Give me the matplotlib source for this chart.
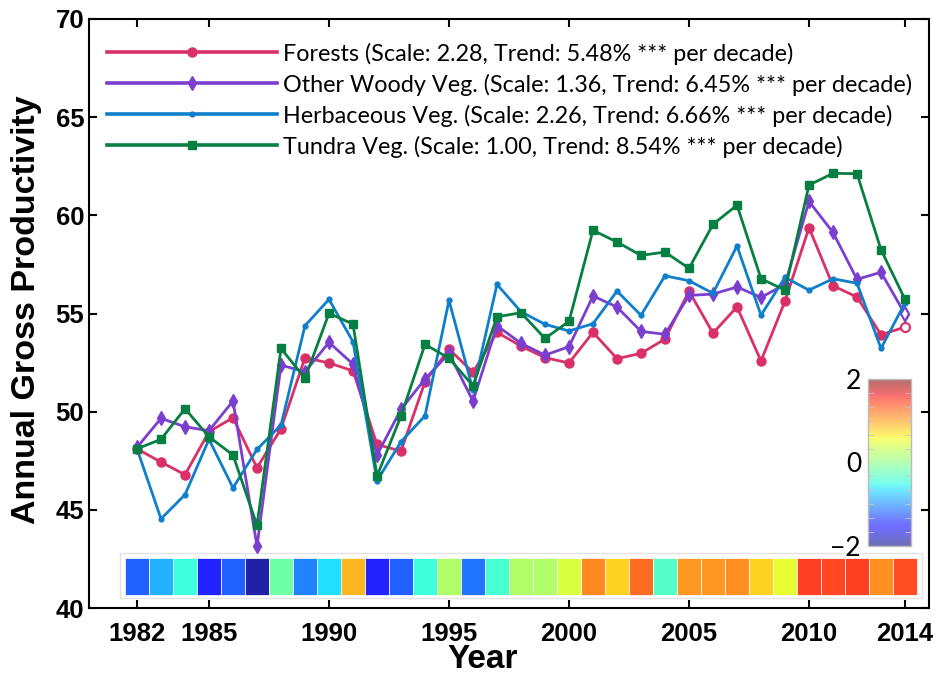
import numpy as np
import matplotlib
matplotlib.use('Agg')
import matplotlib.pyplot as plt
from matplotlib.colors import Normalize
import matplotlib.cm as cm

years = np.arange(1982, 2015)

forests = [48.11, 47.43, 46.79, 48.98, 49.69, 47.14, 49.13, 52.75, 52.48, 52.08,
           48.33, 47.99, 51.52, 53.19, 52.00, 54.04, 53.34, 52.75, 52.48, 54.04,
           52.70, 52.97, 53.70, 56.14, 54.00, 55.34, 52.58, 55.63, 59.37, 56.41,
           55.84, 53.92, 54.31]
woody = [48.18, 49.66, 49.23, 49.03, 50.54, 43.15, 52.37, 52.03, 53.53, 52.42,
         47.79, 50.12, 51.66, 52.97, 50.54, 54.38, 53.48, 52.88, 53.31, 55.89,
         55.33, 54.09, 53.94, 55.92, 55.99, 56.35, 55.82, 56.48, 60.71, 59.13,
         56.74, 57.10, 54.97]
herbaceous = [48.11, 44.54, 45.77, 48.59, 46.12, 48.08, 49.32, 54.38, 55.72, 53.56,
              46.48, 48.47, 49.79, 55.67, 51.10, 56.48, 55.09, 54.45, 54.11, 54.48,
              56.14, 54.91, 56.92, 56.67, 56.03, 58.44, 54.91, 56.84, 56.19, 56.77,
              56.54, 53.22, 55.55]
tundra = [48.11, 48.59, 50.15, 48.72, 47.79, 44.21, 53.22, 51.70, 55.01, 54.46,
          46.72, 49.78, 53.43, 52.72, 51.32, 54.83, 55.04, 53.73, 54.60, 59.24,
          58.64, 57.96, 58.13, 57.30, 59.54, 60.52, 56.77, 56.19, 61.54, 62.14,
          62.12, 58.25, 55.72]

# standardized anomaly shown in the colour strip
anomaly = [-1.21, -0.83, -0.44, -1.49, -1.21, -1.90, -0.16, -1.05, -0.64, 0.92,
           -1.49, -1.21, -0.44, 0.20, -1.11, -0.39, 0.20, 0.20, 0.43, 1.14,
           0.77, 1.28, -0.32, 1.06, 1.06, 1.10, 0.77, 0.51, 1.49, 1.44,
           1.49, 1.10, 1.42]

labels = ['Forests (Scale: 2.28, Trend: 5.48% *** per decade)',
          'Other Woody Veg. (Scale: 1.36, Trend: 6.45% *** per decade)',
          'Herbaceous Veg. (Scale: 2.26, Trend: 6.66% *** per decade)',
          'Tundra Veg. (Scale: 1.00, Trend: 8.54% *** per decade)']
xticks = [1982, 1985, 1990, 1995, 2000, 2005, 2010, 2014]

plt.rcParams['font.family'] = ['Liberation Sans', 'DejaVu Sans']

fig = plt.figure(figsize=(9.36, 6.74), dpi=100)
ax = fig.add_axes([89 / 936, 1 - 608 / 674, 840 / 936, 589 / 674])

# colour strip along the bottom
xedges = np.append(years - 0.5, years[-1] + 0.5)
ax.pcolormesh(xedges, [40.66, 42.55], np.array([anomaly]), cmap='jet',
              vmin=-2, vmax=2, alpha=0.87, edgecolors=(1, 1, 1, 0.25),
              linewidth=0.4)
ax.add_patch(plt.Rectangle((1981.3, 40.5), 33.4, 2.3, fill=False,
                           edgecolor='#e2e2e2', linewidth=1))

styles = [
    (forests, '#d93167', 'o', 6.5, True),
    (woody, '#7b3fd0', 'd', 7.5, True),
    (herbaceous, '#0f7ecb', 'o', 3.5, False),
    (tundra, '#087f42', 's', 5.5, False),
]
for (vals, col, mk, ms, open_end), lab in zip(styles, labels):
    ax.plot(years, vals, color=col, lw=2.0, marker=mk, ms=ms,
            mec=col, mfc=col, label=lab)
    if open_end:
        # last point drawn hollow as in the original figure
        ax.plot(years[-1:], vals[-1:], ls='none', marker=mk, ms=ms,
                mec=col, mfc='white', mew=1.5)

leg = ax.legend(loc='upper left', bbox_to_anchor=(0.021, 0.960), frameon=False,
                handlelength=7.3, handletextpad=0.25, labelspacing=0.38,
                borderpad=0, borderaxespad=0, numpoints=1,
                prop={'family': 'Lato', 'size': 16.8})
for line in leg.get_lines():
    line.set_linewidth(2.6)

ax.set_xlim(1980, 2015)
ax.set_ylim(40, 70)
ax.set_xticks(xticks)
ax.set_yticks(np.arange(40, 71, 5))
ax.tick_params(direction='in', length=6, width=1.5, top=True, right=True,
               labelsize=18.5)
ax.tick_params(axis='x', pad=10)
ax.tick_params(axis='y', pad=3.5)
for lab in ax.get_xticklabels() + ax.get_yticklabels():
    lab.set_fontweight('bold')
for sp in ax.spines.values():
    sp.set_linewidth(1.5)

ax.set_xlabel('Year', fontsize=24, fontweight='bold')
ax.xaxis.set_label_coords(0.469, -0.061)
ax.set_ylabel('Annual Gross Productivity', fontsize=24.5, fontweight='bold')
ax.yaxis.set_label_coords(-0.056, 0.506)

# colorbar inset
cax = fig.add_axes([868 / 936, 1 - 546 / 674, 43 / 936, 167 / 674])
sm = cm.ScalarMappable(norm=Normalize(-2, 2), cmap='jet')
cb = fig.colorbar(sm, cax=cax, alpha=0.57)
cb.outline.set_edgecolor('#bbbbbb')
cb.outline.set_linewidth(1)
cax.yaxis.set_ticks_position('left')
cb.set_ticks([-2, 0, 2])
cax.set_yticks(np.linspace(-2, 2, 13), minor=True)
cax.tick_params(which='major', length=0, pad=5, labelsize=19)
cax.tick_params(which='minor', direction='in', length=4, color='#c8c8c8',
                left=True, right=True)
for lab in cax.get_yticklabels():
    lab.set_family('Lato')

fig.savefig('out.png', dpi=100)
